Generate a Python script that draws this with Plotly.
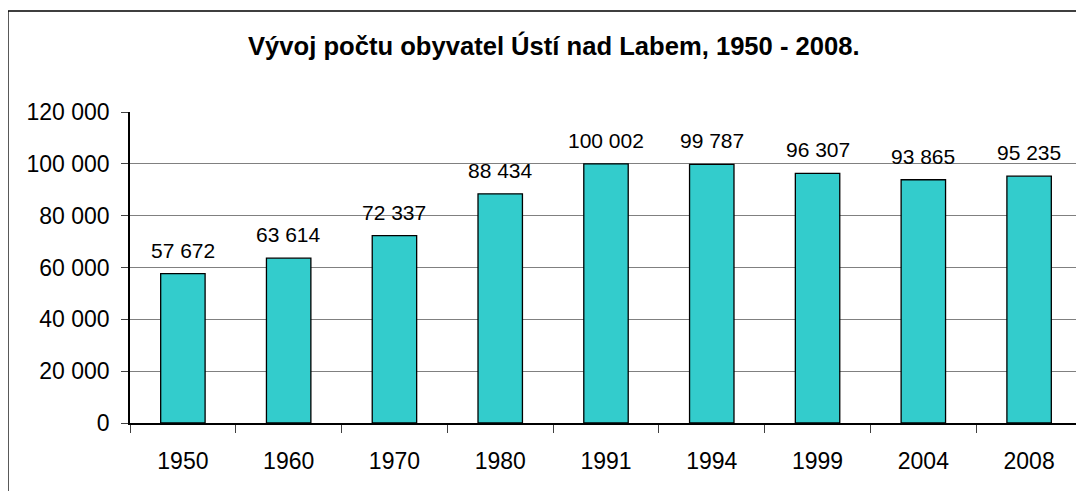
import plotly.graph_objects as go

years = ["1950", "1960", "1970", "1980", "1991", "1994", "1999", "2004", "2008"]
population = [57672, 63614, 72337, 88434, 100002, 99787, 96307, 93865, 95235]
y_ticks = [0, 20000, 40000, 60000, 80000, 100000, 120000]
title_text = "Vývoj počtu obyvatel Ústí nad Labem, 1950 - 2008."

FONT = "Liberation Sans, Arial, sans-serif"

# page has an 8px body margin: work in screen pixels, shift by -8
OFF = 8
W, H = 1084, 491
ml, mt = 130 - OFF, 112 - OFF
plot_right, plot_bottom = 1082 - OFF, 423 - OFF
mr, mb = W - plot_right, H - plot_bottom
pw, ph = plot_right - ml, plot_bottom - mt

def px_x(x):
    return (x - OFF - ml) / pw

def px_y(y):
    return (plot_bottom - (y - OFF)) / ph

fig = go.Figure()
fig.add_trace(go.Bar(
    x=years, y=population, width=0.42,
    marker=dict(color="#33CCCC", line=dict(color="black", width=1.3)),
    hoverinfo="x+y",
))

for i, val in enumerate(population):
    fig.add_annotation(
        x=i, y=val, xref="x", yref="y",
        text=f"{val:,}".replace(",", " "),
        showarrow=False, yanchor="bottom", yshift=10,
        font=dict(family=FONT, size=21, color="black"),
    )

fig.add_annotation(
    x=px_x(554), y=px_y(46), xref="paper", yref="paper",
    xanchor="center", yanchor="middle",
    text="<b>" + title_text + "</b>",
    showarrow=False, font=dict(family=FONT, size=25.6, color="black"),
)

# outer chart border
fig.add_shape(type="rect", xref="paper", yref="paper",
              x0=px_x(8), x1=px_x(1083), y0=px_y(505), y1=px_y(11),
              line=dict(color="black", width=1.3), fillcolor="rgba(0,0,0,0)", layer="above")
# right edge of plot area
fig.add_shape(type="line", xref="paper", yref="paper", x0=1, x1=1, y0=0, y1=1,
              line=dict(color="#808080", width=1))

fig.update_layout(
    width=W, height=H,
    margin=dict(l=ml, r=mr, t=mt, b=mb, pad=0),
    paper_bgcolor="white", plot_bgcolor="white",
    showlegend=False,
    separators=", ",
    font=dict(family=FONT, size=23, color="black"),
)
fig.update_xaxes(
    type="category", range=[-0.5, len(years) - 0.5],
    showline=True, linecolor="black", linewidth=2,
    ticks="outside", tickson="boundaries", ticklen=8, tickcolor="#404040", tickwidth=1,
    showgrid=False, tickfont=dict(family=FONT, size=23, color="black"),
    tickangle=0, zeroline=False, ticklabelstandoff=16,
)
fig.update_yaxes(
    range=[0, 120000], tickvals=y_ticks,
    ticktext=[f"{v:,}".replace(",", " ") for v in y_ticks],
    showline=True, linecolor="black", linewidth=1.5,
    ticks="outside", ticklen=7, tickcolor="#404040", tickwidth=1,
    showgrid=True, gridcolor="#808080", gridwidth=1,
    zeroline=False, tickfont=dict(family=FONT, size=23, color="black"),
    ticklabelstandoff=7,
)

fig.write_html("out.html")
